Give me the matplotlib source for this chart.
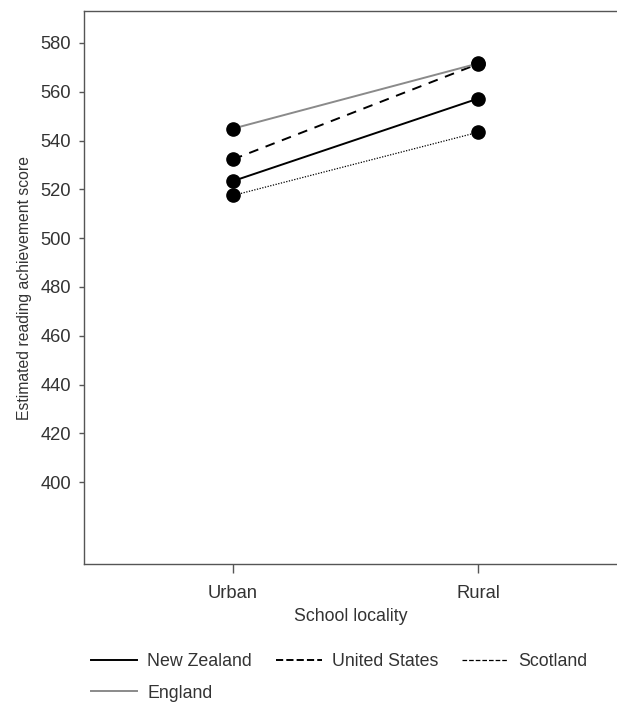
import numpy as np
import matplotlib.pyplot as plt

plt.rcParams['font.family'] = ['Liberation Sans', 'DejaVu Sans']

# data
localities = ['Urban', 'Rural']
new_zealand = [523.4, 557.2]
united_states = [532.3, 571.4]
scotland = [517.5, 543.4]
england = [544.9, 571.6]

y_ticks = [400, 420, 440, 460, 480, 500, 520, 540, 560, 580]

fig = plt.figure(figsize=(6.17, 7.04), dpi=100)
ax = fig.add_axes([0.136, 0.199, 0.864, 0.785])

x = np.arange(len(localities))
txt = '#333333'

h_nz, = ax.plot(x, new_zealand, color='black', lw=1.4, ls='-',
                marker='o', ms=9.5, label='New Zealand')
h_us, = ax.plot(x, united_states, color='black', lw=1.4, ls=(0, (5, 4)),
                marker='o', ms=9.5, label='United States')
h_sc, = ax.plot(x, scotland, color='black', lw=0.9, ls=(0, (1, 1.2)),
                marker='o', ms=9.5, label='Scotland')
h_en, = ax.plot(x, england, color='#8a8a8a', lw=1.4, ls='-',
                marker='o', ms=9.5, mfc='black', mec='black', label='England')

ax.set_xlim(-0.608, 1.567)
ax.set_ylim(366.5, 593)
ax.set_xticks(x)
ax.set_xticklabels(localities)
ax.set_yticks(y_ticks)

ax.spines['right'].set_visible(False)
for s in ['left', 'top', 'bottom']:
    ax.spines[s].set_color('#555555')
    ax.spines[s].set_linewidth(1.0)
ax.tick_params(direction='out', width=1, color='#555555',
               labelsize=13.2, labelcolor=txt)
ax.tick_params(axis='x', length=6.5, pad=9)
ax.tick_params(axis='y', length=3.6, pad=5.5)

ax.set_xlabel('School locality', fontsize=12.8, color=txt, labelpad=4)
ax.set_ylabel('Estimated reading achievement score', fontsize=11.3, color=txt, labelpad=6)

# legend below the plot (reordered so rows read NZ, US, Scotland / England)
leg_lines = []
for h in [h_nz, h_en, h_us, h_sc]:
    l, = plt.plot([], [], color=h.get_color(), lw=h.get_linewidth(), ls=h.get_linestyle())
    leg_lines.append(l)
leg = fig.legend(leg_lines, ['New Zealand', 'England', 'United States', 'Scotland'],
                 ncol=3, loc='upper left', bbox_to_anchor=(0.1475, 0.072),
                 frameon=False, fontsize=12.8, handlelength=2.6,
                 handletextpad=0.55, columnspacing=1.35, labelspacing=0.8,
                 borderaxespad=0, borderpad=0)
for t in leg.get_texts():
    t.set_color(txt)

fig.savefig('out.png', dpi=100)
